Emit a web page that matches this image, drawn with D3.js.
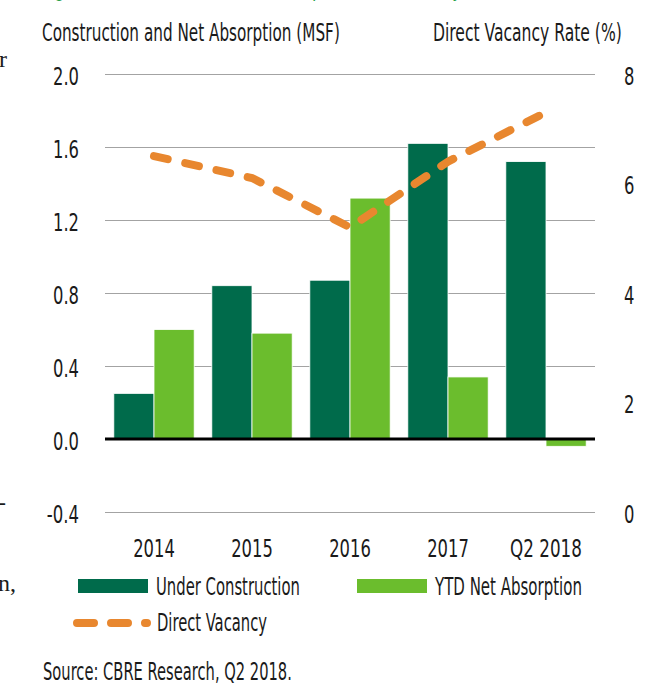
<!DOCTYPE html>
<html><head><meta charset="utf-8">
<script src="https://cdn.jsdelivr.net/npm/d3@7"></script>
<style>
html,body{margin:0;padding:0;background:#fff;overflow:hidden}
svg{display:block}
text{font-family:"Liberation Sans Narrow","DejaVu Sans Condensed","Liberation Sans",Arial,sans-serif;fill:#1a1a1a}
</style></head><body>
<svg id="chart" width="651" height="695"></svg>
<script>
// ---- data ----
const categories = ["2014","2015","2016","2017","Q2 2018"];
const underConstruction = [0.25,0.84,0.87,1.62,1.52];
const netAbsorption = [0.60,0.58,1.32,0.34,-0.04];
const directVacancy = [6.5,6.1,5.2,6.4,7.3];
const leftTicks = [-0.4,0.0,0.4,0.8,1.2,1.6,2.0];
const rightTicks = [0,2,4,6,8];
const seriesNames = ["Under Construction","YTD Net Absorption"];
const lineName = "Direct Vacancy";
const leftTitle = "Construction and Net Absorption (MSF)";
const rightTitle = "Direct Vacancy Rate (%)";
const sourceText = "Source: CBRE Research, Q2 2018.";

// ---- styling ----
const C_DARK = "#006b4b", C_LIGHT = "#6bbd2d", C_ORANGE = "#e8872f", C_GRID = "#a3a3a3";
const K = 0.78; // horizontal condensing factor relative to Liberation Sans
const FONT = "'Liberation Sans Narrow','DejaVu Sans Condensed','Liberation Sans',Arial,sans-serif";
const SERIF = "'Liberation Serif','DejaVu Serif',serif";
const svg = d3.select("#chart");
const probe = svg.append("text").attr("x",-999).attr("y",-999).style("font-family","'Liberation Sans',Arial,sans-serif");
function refWidth(str, size){ probe.style("font-size", size+"px").text(str); return probe.node().getComputedTextLength(); }
// horizontally scale a text element so its drawn width equals w (keeps real bounding box)
function squeezeNode(node, w){
  const nat = node.getComputedTextLength();
  if(!nat) return;
  const s = w/nat;
  const sel = d3.select(node);
  const x = +(sel.attr("x")||0);
  sel.attr("x", x/s).attr("transform", (sel.attr("transform")||"") + ` scale(${s},1)`);
}
function fit(sel, w){ sel.each(function(){ squeezeNode(this, w); }); }
function condense(sel, k, size){ sel.each(function(){ squeezeNode(this, refWidth(this.textContent,size)*k); }); }

const L = 105, R = 595, T = 74, B = 512;
const x0 = d3.scaleBand().domain(categories).range([L,R]).paddingInner(0.18).paddingOuter(0.09);
const x1 = d3.scaleBand().domain(seriesNames).range([0,x0.bandwidth()]);
const yL = d3.scaleLinear().domain([-0.4,2.0]).range([B,T]);
const yR = d3.scaleLinear().domain([0,8]).range([B,T]);

// cut-off neighbouring text (page layout)
svg.append("text").attr("x",42).attr("y",-4).style("font-size","24px").style("fill","#2aa14a")
  .text("Figure 4: Construction, Net Absorption and Vacancy").call(fit, 420);
const sideText = svg.append("g");
sideText.append("text").attr("x",-1).attr("y",67).style("font-family",SERIF).style("font-size","24px").text("r");
sideText.append("text").attr("x",-2).attr("y",510).style("font-family",SERIF).style("font-size","24px").text("-");
sideText.append("text").attr("x",16).attr("y",591).attr("text-anchor","end").style("font-family",SERIF).style("font-size","24px").text("n,");

// titles
svg.append("text").attr("x",42).attr("y",41).style("font-size","24px").text(leftTitle).call(fit, 298);
svg.append("text").attr("x",433).attr("y",41).style("font-size","24px").text(rightTitle).call(fit, 189);

// left axis with gridlines
const gL = svg.append("g").attr("transform",`translate(${L},0)`)
  .call(d3.axisLeft(yL).tickValues(leftTicks).tickFormat(d=>d.toFixed(1)).tickSize(-(R-L)).tickPadding(26));
gL.select(".domain").remove();
gL.selectAll(".tick line").attr("stroke",C_GRID).attr("stroke-width",1);
gL.selectAll(".tick text").attr("dy",null).attr("y",10).style("font-size","24px").attr("fill","#1a1a1a")
  .style("font-family",FONT).call(condense, K, 24);

// right axis
const gR = svg.append("g").attr("transform",`translate(${R},0)`)
  .call(d3.axisRight(yR).tickValues(rightTicks).tickFormat(d=>String(d)).tickSize(0).tickPadding(29));
gR.select(".domain").remove();
gR.selectAll(".tick text").attr("dy",null).attr("y",10).style("font-size","24px").attr("fill","#1a1a1a")
  .style("font-family",FONT).call(condense, K, 24);

// bars
const rows = categories.map((c,i)=>({cat:c, vals:[underConstruction[i], netAbsorption[i]]}));
const groups = svg.append("g").selectAll("g").data(rows).join("g")
  .attr("transform", d=>`translate(${x0(d.cat)},0)`);
groups.selectAll("rect").data(d=>d.vals.map((v,j)=>({name:seriesNames[j], v}))).join("rect")
  .attr("x", d=>x1(d.name)).attr("width", x1.bandwidth())
  .attr("y", d=>yL(Math.max(0,d.v))).attr("height", d=>Math.abs(yL(d.v)-yL(0)))
  .attr("fill", d=>d.name===seriesNames[0]?C_DARK:C_LIGHT)
  .attr("stroke","#fff").attr("stroke-width",0.8);

// zero line
svg.append("line").attr("x1",L).attr("x2",R).attr("y1",yL(0)).attr("y2",yL(0))
  .attr("stroke","#000").attr("stroke-width",3);

// vacancy line
const line = d3.line().x((d,i)=>x0(categories[i])+x0.bandwidth()/2).y(d=>yR(d));
svg.append("path").datum(directVacancy).attr("d",line).attr("fill","none")
  .attr("stroke",C_ORANGE).attr("stroke-width",8).attr("stroke-linecap","round")
  .attr("stroke-dasharray","14 18");

// x axis labels
const gX = svg.append("g").attr("transform",`translate(0,${B})`)
  .call(d3.axisBottom(x0).tickSize(0));
gX.select(".domain").remove();
gX.selectAll(".tick text").attr("dy",null).attr("y",45).style("font-size","24px").attr("fill","#1a1a1a")
  .style("font-family",FONT).call(condense, K, 24);

// legend
const lg = svg.append("g");
lg.append("rect").attr("x",78).attr("y",579).attr("width",70).attr("height",14).attr("fill",C_DARK);
lg.append("text").attr("x",156).attr("y",595).style("font-size","24px").text(seriesNames[0]).call(fit,144);
lg.append("rect").attr("x",357).attr("y",579).attr("width",70).attr("height",14).attr("fill",C_LIGHT);
lg.append("text").attr("x",435).attr("y",595).style("font-size","24px").text(seriesNames[1]).call(fit,147);
lg.append("line").attr("x1",77).attr("x2",147).attr("y1",623).attr("y2",623)
  .attr("stroke",C_ORANGE).attr("stroke-width",8).attr("stroke-linecap","round").attr("stroke-dasharray","17 17");
lg.append("text").attr("x",157).attr("y",631).style("font-size","24px").text(lineName).call(fit,110);

// source
svg.append("text").attr("x",43).attr("y",680).style("font-size","25px").text(sourceText).call(fit,249);
probe.remove();
</script>
</body></html>
